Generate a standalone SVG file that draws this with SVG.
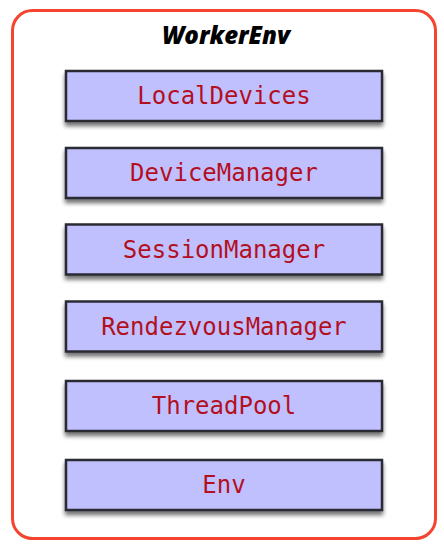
<svg xmlns="http://www.w3.org/2000/svg" width="444" height="548" viewBox="0 0 444 548">
<defs>
<filter id="sh" x="-10%" y="-20%" width="120%" height="160%">
<feGaussianBlur in="SourceAlpha" stdDeviation="2"/>
<feOffset dx="0" dy="4" result="b"/>
<feComponentTransfer><feFuncA type="linear" slope="0.55"/></feComponentTransfer>
<feMerge><feMergeNode/><feMergeNode in="SourceGraphic"/></feMerge>
</filter>
</defs>
<style>
.box{fill:#C0C0FF;stroke:#2a2a33;stroke-width:2.5}
.lbl{font-family:"DejaVu Sans Mono",monospace;font-size:24px;fill:#B3101F;text-anchor:middle}
.title{font-family:"Open Sans",sans-serif;font-weight:800;font-style:italic;font-size:24px;fill:#000;text-anchor:middle}
</style>
<rect width="444" height="548" fill="#fff"/>
<g id="WorkerEnv">
<rect x="12.5" y="10.5" width="423" height="528" rx="20" fill="#fff" stroke="#F4432E" stroke-width="3"/>
<text class="title" x="226" y="44">WorkerEnv</text>
</g>
<g id="LocalDevices"><rect class="box" x="66" y="71" width="316" height="50" filter="url(#sh)"/><text class="lbl" x="224" y="104">LocalDevices</text></g>
<g id="DeviceManager"><rect class="box" x="66" y="148" width="316" height="50" filter="url(#sh)"/><text class="lbl" x="224" y="181">DeviceManager</text></g>
<g id="SessionManager"><rect class="box" x="66" y="224.5" width="316" height="50" filter="url(#sh)"/><text class="lbl" x="224" y="257.5">SessionManager</text></g>
<g id="RendezvousManager"><rect class="box" x="66" y="301.5" width="316" height="50" filter="url(#sh)"/><text class="lbl" x="224" y="334.5">RendezvousManager</text></g>
<g id="ThreadPool"><rect class="box" x="66" y="381" width="316" height="50" filter="url(#sh)"/><text class="lbl" x="224" y="414">ThreadPool</text></g>
<g id="Env"><rect class="box" x="66" y="460" width="316" height="50" filter="url(#sh)"/><text class="lbl" x="224" y="493">Env</text></g>
<g id="connectors"></g>
</svg>
